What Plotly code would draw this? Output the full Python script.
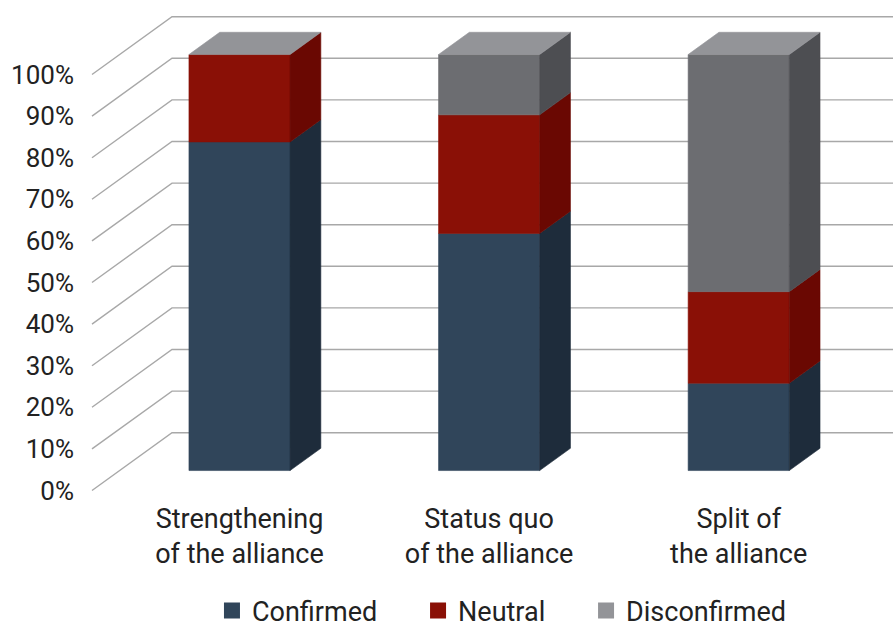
import plotly.graph_objects as go

# ---- data ----
categories = ["Strengthening<br>of the alliance", "Status quo<br>of the alliance", "Split of<br>the alliance"]
series_names = ["Confirmed", "Neutral", "Disconfirmed"]
confirmed = [79, 57, 21]
neutral = [21, 28.5, 22]
disconfirmed = [0, 14.5, 57]
y_ticks = [0, 10, 20, 30, 40, 50, 60, 70, 80, 90, 100]
y_tick_labels = ["0%", "10%", "20%", "30%", "40%", "50%", "60%", "70%", "80%", "90%", "100%"]

# ---- styles ----
front_colors = ["#30455a", "#8a1006", "#6c6d71"]
side_colors = ["#1e2c3b", "#6a0802", "#4d4e52"]
top_color = "#939498"
legend_colors = ["#30455a", "#8a1006", "#939498"]
grid_color = "#a8a8a8"
text_color = "#222222"
FONT = "Roboto"

# oblique projection parameters (depth d: 0 = front plane, 1 = back wall)
AX = 0.3205   # x shift per unit depth (category units)
AY = 13.9     # y shift per unit depth (percent units)
D0, D1 = 0.345, 0.73
BAR_W = 0.405
WALL_X = -0.4804
X_MIN, X_MAX = -0.4964, 2.7288
Y_MIN, Y_MAX = -2.284, 117.91


def proj(x, p, d):
    return x + d * AX, p + d * AY


def poly(fig, pts, color):
    xs = [q[0] for q in pts] + [pts[0][0]]
    ys = [q[1] for q in pts] + [pts[0][1]]
    fig.add_trace(go.Scatter(x=xs, y=ys, mode="lines", fill="toself",
                             fillcolor=color, line=dict(color=color, width=0.6),
                             hoverinfo="skip", showlegend=False))


fig = go.Figure()

# gridlines: side wall diagonal + back wall horizontal
for p in y_ticks:
    x0, y0 = proj(WALL_X, p, 0)
    x1, y1 = proj(WALL_X, p, 1)
    fig.add_trace(go.Scatter(x=[x0, x1, X_MAX + 0.2], y=[y0, y1, y1], mode="lines",
                             line=dict(color=grid_color, width=1.4),
                             hoverinfo="skip", showlegend=False))

# bars
series = [confirmed, neutral, disconfirmed]
for i in range(len(categories)):
    base = 0.0
    xl, xr = i - BAR_W / 2, i + BAR_W / 2
    for s, vals in enumerate(series):
        v = vals[i]
        top = base + v
        if v > 0:
            front = [proj(xl, base, D0), proj(xr, base, D0), proj(xr, top, D0), proj(xl, top, D0)]
            side = [proj(xr, base, D0), proj(xr, base, D1), proj(xr, top, D1), proj(xr, top, D0)]
            poly(fig, front, front_colors[s])
            poly(fig, side, side_colors[s])
        base = top
    topface = [proj(xl, base, D0), proj(xr, base, D0), proj(xr, base, D1), proj(xl, base, D1)]
    poly(fig, topface, top_color)

# legend entries (one legend per item for exact placement)
legend_ids = ["legend", "legend2", "legend3"]
for name, col, lid in zip(series_names, legend_colors, legend_ids):
    fig.add_trace(go.Scatter(x=[None], y=[None], mode="markers", name=name,
                             marker=dict(symbol="square", size=16, color=col),
                             legend=lid, showlegend=True))

leg_common = dict(orientation="h", yanchor="middle", xanchor="left", y=-0.222,
                  font=dict(family=FONT, size=27, color=text_color),
                  bgcolor="rgba(0,0,0,0)", borderwidth=0)

fig.update_layout(
    width=893, height=627,
    margin=dict(l=88, r=0, t=0, b=127, autoexpand=False),
    paper_bgcolor="white", plot_bgcolor="white",
    font=dict(family=FONT, size=27, color=text_color),
    hovermode=False,
    xaxis=dict(range=[X_MIN, X_MAX], tickvals=[i + D0 * AX for i in range(len(categories))],
               ticktext=categories, showgrid=False, zeroline=False, showline=False,
               ticks="", automargin=False,
               tickfont=dict(family=FONT, size=27, color=text_color), fixedrange=True),
    yaxis=dict(range=[Y_MIN, Y_MAX], tickvals=y_ticks, ticktext=y_tick_labels,
               showgrid=False, zeroline=False, showline=False, ticks="",
               ticklabelstandoff=13, automargin=False,
               tickfont=dict(family=FONT, size=26, color=text_color), fixedrange=True),
    legend=dict(x=0.1540, **leg_common),
    legend2=dict(x=0.4100, **leg_common),
    legend3=dict(x=0.6187, **leg_common),
)

fig.write_html("out.html")
